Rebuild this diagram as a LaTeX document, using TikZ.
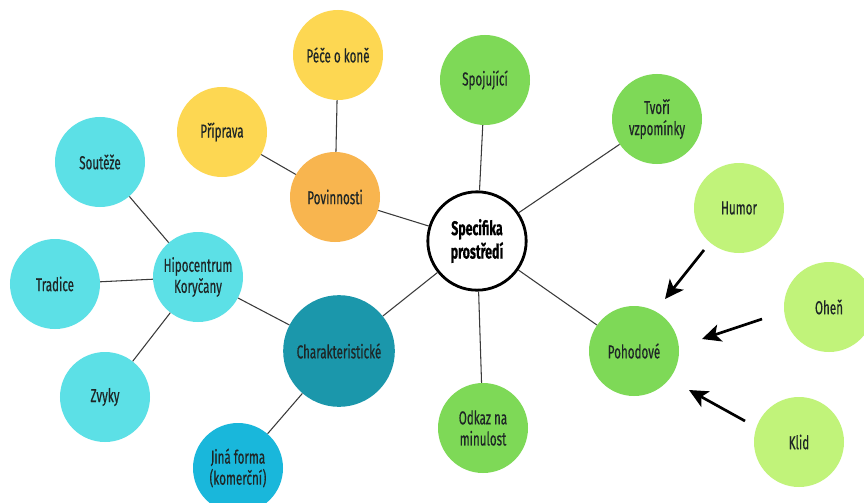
\documentclass[tikz,border=0pt]{standalone}
\usepackage{fontspec}
\setmainfont{Fira Sans}[FakeStretch=0.62, FakeBold=0.5]
\usetikzlibrary{arrows.meta}
\definecolor{ylw}{HTML}{FDD752}
\definecolor{org}{HTML}{F8B54F}
\definecolor{grn}{HTML}{7ED957}
\definecolor{lgrn}{HTML}{C1F37A}
\definecolor{lcyan}{HTML}{5CE0E6}
\definecolor{teal}{HTML}{1B97AB}
\definecolor{blu}{HTML}{19B7DB}
\definecolor{txt}{HTML}{1E2626}
\definecolor{edge}{HTML}{3A3A3A}
\tikzset{
  bub/.style={circle, minimum size=2.7cm, inner sep=0pt, align=center, text=txt,
    font=\fontsize{16}{18}\selectfont},
  link/.style={draw=edge, line width=0.9pt},
  push/.style={line width=2.3pt, -{Stealth[length=16pt,width=15pt,inset=4pt]}},
}
\begin{document}
\begin{tikzpicture}[x=0.03cm,y=-0.03cm]
\fill[white] (0,0) rectangle (864,503);
\useasboundingbox (0,0) rectangle (864,503);
\node[bub, fill=org] (pov) at (335,197) {Povinnosti};
\node[bub, fill=ylw] (pri) at (222,132) {Příprava};
\node[bub, fill=ylw] (pec) at (338,55) {Péče o koně};
\node[bub, fill=grn] (spo) at (485,80) {Spojující};
\node[bub, fill=grn] (tvo) at (657,119) {Tvoří\\vzpomínky};
\node[bub, fill=lgrn] (hum) at (739,208) {Humor};
\node[bub, fill=lgrn] (ohe) at (829,307) {Oheň};
\node[bub, fill=lgrn] (kli) at (799,442) {Klid};
\node[bub, fill=grn] (poh) at (634,351) {Pohodové};
\node[bub, fill=grn] (odk) at (483,428) {Odkaz na\\minulost};
\node[bub, fill=teal, minimum size=3.35cm] (cha) at (339,351) {Charakteristické};
\node[bub, fill=blu] (jin) at (238,468) {Jiná forma\\(komerční)};
\node[bub, fill=lcyan] (hip) at (198,277) {Hipocentrum\\Koryčany};
\node[bub, fill=lcyan] (sou) at (100,162) {Soutěže};
\node[bub, fill=lcyan] (tra) at (55,284) {Tradice};
\node[bub, fill=lcyan] (zvy) at (105,397) {Zvyky};
\node[bub, fill=white, draw=black, line width=2.4pt, minimum size=2.95cm,
  font=\bfseries\fontsize{17}{20}\selectfont, text=black] (spe) at (477,241) {Specifika\\prostředí};
% connectors
\draw[link] (spe) -- (pov);
\draw[link] (spe) -- (spo);
\draw[link] (spe) -- (tvo);
\draw[link] (spe) -- (poh);
\draw[link] (spe) -- (odk);
\draw[link] (spe) -- (cha);
\draw[link] (pov) -- (pri);
\draw[link] (pov) -- (pec);
\draw[link] (cha) -- (hip);
\draw[link] (cha) -- (jin);
\draw[link] (hip) -- (sou);
\draw[link] (hip) -- (tra);
\draw[link] (hip) -- (zvy);
% arrows
\coordinate (a1) at (704,250); \coordinate (b1) at (665,299);
\coordinate (a2) at (762,319); \coordinate (b2) at (702,339);
\coordinate (a3) at (745,421); \coordinate (b3) at (689,390);
\draw[push] (a1) -- (b1);
\draw[push] (a2) -- (b2);
\draw[push] (a3) -- (b3);
\end{tikzpicture}
\end{document}
